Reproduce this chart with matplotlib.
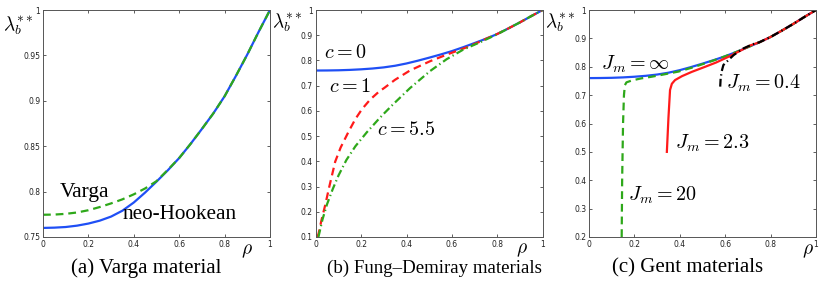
import matplotlib
matplotlib.use("Agg")
import matplotlib.pyplot as plt

plt.rcParams['mathtext.fontset'] = 'cm'
plt.rcParams['font.family'] = ['Liberation Serif', 'DejaVu Serif']

# ---------------- data ----------------
rho_neo = [0, .05, .1, .15, .2, .25, .3, .35, .4, .45, .5, .55, .6, .65, .7, .75, .8, .85, .9, .95, 1.0]
lam_neo = [.760, .7603, .7610, .7625, .7648, .768, .7725, .779, .788, .799, .811, .8235, .837, .8525, .869, .886, .905, .9275, .951, .976, 1.0]

rho_varga = [0, .05, .1, .15, .2, .25, .3, .35, .4, .45, .5, .55, .6, .65, .7, .75, .8, .85, .9, .95, 1.0]
lam_varga = [.7745, .7747, .7755, .777, .7795, .783, .787, .7915, .797, .8035, .8115, .824, .837, .8525, .869, .886, .905, .9275, .951, .976, 1.0]

rho_c1 = [.008, .013, .025, .042, .06, .086, .11, .145, .175, .204, .24, .277, .305, .349, .415, .504, .577, .665, .72, .75, .8, .85, .9, .95, 1.0]
lam_c1 = [.1, .115, .165, .227, .30, .399, .455, .518, .568, .607, .645, .675, .693, .723, .76, .797, .823, .852, .873, .886, .905, .9275, .951, .976, 1.0]

rho_c55 = [.012, .03, .05, .075, .101, .135, .175, .225, .247, .277, .298, .342, .415, .504, .577, .65, .724, .8, .85, .9, .95, 1.0]
lam_c55 = [.1, .17, .23, .29, .345, .405, .46, .515, .537, .567, .587, .627, .69, .758, .805, .843, .872, .904, .9275, .951, .976, 1.0]

rho_j20 = [.144, .146, .15, .154, .158, .165, .19, .23, .277, .33, .394, .45, .5, .55, .6, .65, .7, .75, .8, .85, .9, .95, 1.0]
lam_j20 = [.2, .4, .6, .70, .735, .745, .752, .759, .765, .773, .783, .796, .809, .8225, .837, .8525, .869, .886, .905, .9275, .951, .976, 1.0]

rho_j23 = [.343, .35, .357, .365, .379, .41, .453, .512, .56, .622, .68, .71, .75, .8, .85, .9, .95, 1.0]
lam_j23 = [.50, .62, .718, .74, .753, .767, .782, .80, .815, .838, .862, .875, .886, .905, .9275, .951, .976, 1.0]

rho_j04 = [.578, .58, .585, .592, .607, .637, .66, .681, .72, .75, .8, .85, .9, .95, 1.0]
lam_j04 = [.73, .76, .785, .806, .818, .841, .854, .865, .879, .886, .905, .9275, .951, .976, 1.0]

x_ticks = [0, 0.2, 0.4, 0.6, 0.8, 1.0]
x_ticklabels = ["0", "0.2", "0.4", "0.6", "0.8", "1"]
ya_ticks = [0.75, 0.8, 0.85, 0.9, 0.95, 1.0]
ya_labels = ["0.75", "0.8", "0.85", "0.9", "0.95", "1"]
yb_ticks = [0.1, 0.2, 0.3, 0.4, 0.5, 0.6, 0.7, 0.8, 0.9, 1.0]
yb_labels = ["0.1", "0.2", "0.3", "0.4", "0.5", "0.6", "0.7", "0.8", "0.9", "1"]
yc_ticks = [0.2, 0.3, 0.4, 0.5, 0.6, 0.7, 0.8, 0.9, 1.0]
yc_labels = ["0.2", "0.3", "0.4", "0.5", "0.6", "0.7", "0.8", "0.9", "1"]

captions = ["(a) Varga material", "(b) Fung\u2013Demiray materials", "(c) Gent materials"]

BLUE = '#1f4ff5'
GREEN = '#2ea81a'
RED = '#ff1a1a'
BLACK = '#000000'

W, H = 830, 286
fig = plt.figure(figsize=(W / 100, H / 100), dpi=100)

lefts = [43, 315.7, 589]
ax_w = 227
ax_top, ax_bot = 10, 237
axes = []
for l in lefts:
    ax = fig.add_axes([l / W, 1 - ax_bot / H, ax_w / W, (ax_bot - ax_top) / H])
    axes.append(ax)

def style(ax, yt, yl, ylim):
    ax.set_xlim(0, 1)
    ax.set_ylim(*ylim)
    ax.set_xticks(x_ticks)
    ax.set_xticklabels(x_ticklabels, family='DejaVu Sans')
    ax.set_yticks(yt)
    ax.set_yticklabels(yl, family='DejaVu Sans')
    ax.tick_params(direction='in', length=2.5, width=0.6, labelsize=5.5, pad=2,
                   top=True, right=True, colors='#444444', labelcolor='#222222')
    for s in ax.spines.values():
        s.set_color('#555555')
        s.set_linewidth(0.7)

lw = 1.6
# (a)
ax = axes[0]
ax.plot(rho_neo, lam_neo, '-', color=BLUE, lw=lw)
ax.plot(rho_varga, lam_varga, '--', color=GREEN, lw=lw, dashes=(3.5, 2.2))
style(ax, ya_ticks, ya_labels, (0.75, 1.0))
ax.text(0.072, 0.7995, "Varga", fontsize=15.5, va='center', ha='left')
ax.text(0.35, 0.7745, "neo-Hookean", fontsize=15.3, va='center', ha='left')

# (b)
ax = axes[1]
ax.plot(rho_neo, lam_neo, '-', color=BLUE, lw=lw)
ax.plot(rho_c1, lam_c1, '--', color=RED, lw=lw, dashes=(3.5, 2.2))
ax.plot(rho_c55, lam_c55, '-.', color=GREEN, lw=lw, dashes=(3.5, 1.5, 0.6, 1.5))
style(ax, yb_ticks, yb_labels, (0.1, 1.0))
ax.text(0.038, 0.826, r"$c=0$", fontsize=14.5, va='center', ha='left')
ax.text(0.06, 0.693, r"$c=1$", fontsize=14.5, va='center', ha='left')
ax.text(0.272, 0.524, r"$c=5.5$", fontsize=14.5, va='center', ha='left')

# (c)
ax = axes[2]
ax.plot(rho_neo, lam_neo, '-', color=BLUE, lw=lw)
ax.plot(rho_j20, lam_j20, '--', color=GREEN, lw=lw, dashes=(3.5, 2.2))
ax.plot(rho_j23, lam_j23, '-', color=RED, lw=lw)
ax.plot(rho_j04, lam_j04, '-.', color=BLACK, lw=lw, dashes=(3.5, 1.5, 0.6, 1.5))
style(ax, yc_ticks, yc_labels, (0.2, 1.0))
ax.text(0.054, 0.81, r"$J_m=\infty$", fontsize=14.5, va='center', ha='left')
ax.text(0.605, 0.743, r"$J_m=0.4$", fontsize=14.5, va='center', ha='left')
ax.text(0.377, 0.531, r"$J_m=2.3$", fontsize=14.5, va='center', ha='left')
ax.text(0.17, 0.348, r"$J_m=20$", fontsize=14.5, va='center', ha='left')

# axis labels
for (lx, ly) in [(18, 26), (287, 23), (560, 23)]:
    fig.text(lx / W, 1 - ly / H, r"$\lambda_b^{**}$", fontsize=13.8, ha='center', va='center')
for (rx, ry) in [(247, 251), (522, 250), (808, 251)]:
    fig.text(rx / W, 1 - ry / H, r"$\rho$", fontsize=14, ha='center', va='center')
for cx, cap, fs in zip([146, 434, 688], captions, [15, 13.6, 15]):
    fig.text(cx / W, 1 - 268 / H, cap, fontsize=fs, ha='center', va='center')

fig.savefig("out.png", dpi=100)
